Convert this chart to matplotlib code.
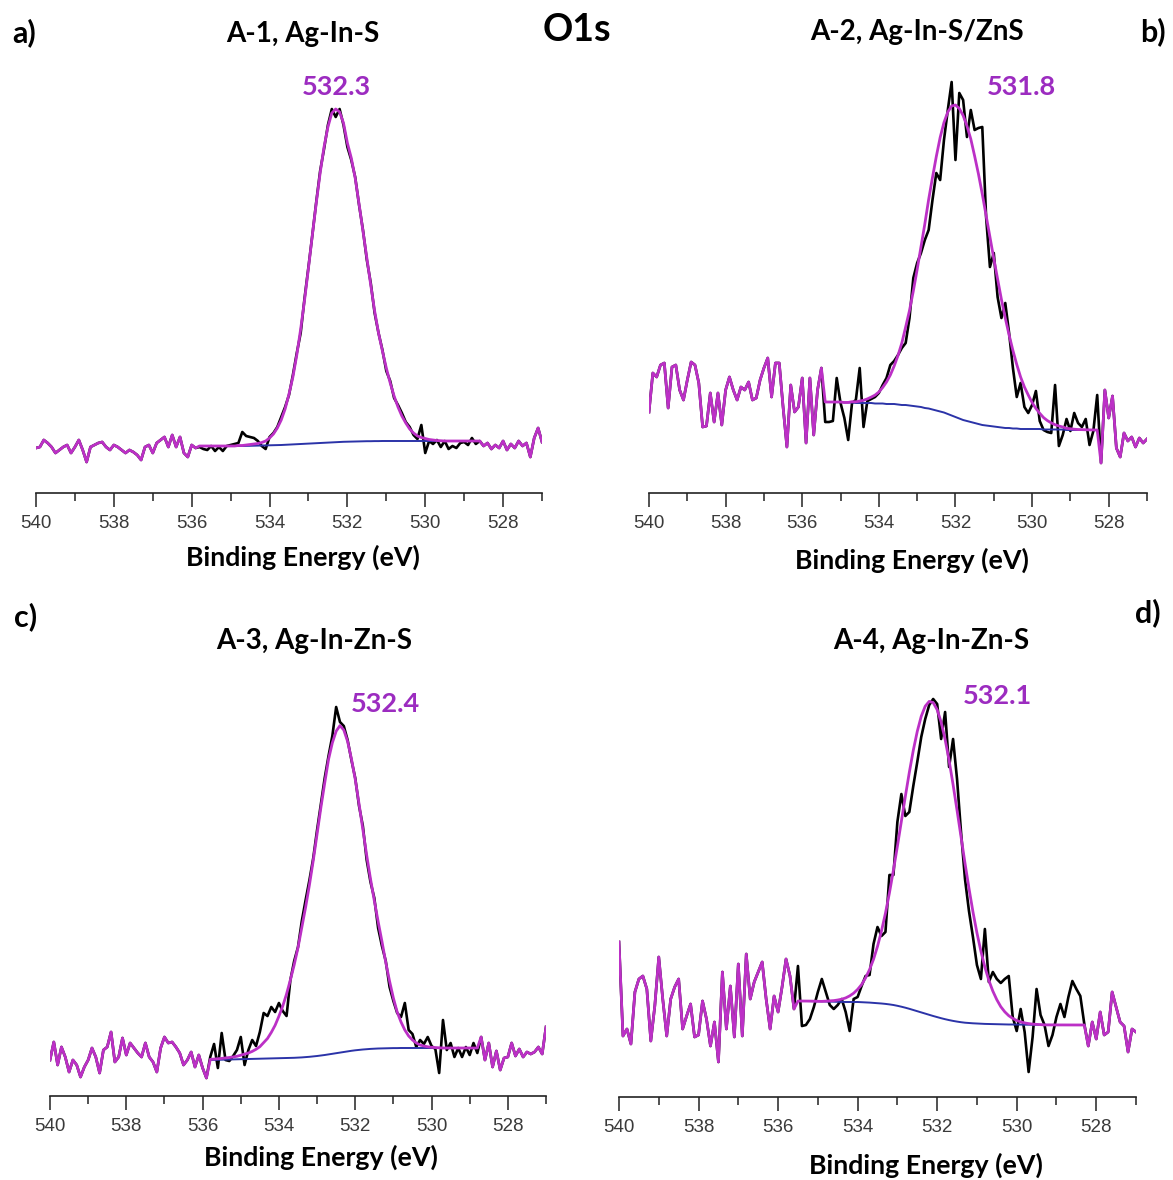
import numpy as np
import matplotlib
matplotlib.use("Agg")
import matplotlib.pyplot as plt
from matplotlib.ticker import MultipleLocator

plt.rcParams['font.family'] = ['Lato', 'DejaVu Sans']

# ---------------- data ----------------
energy = np.round(np.linspace(540.0, 527.0, 131), 1)   # binding energy grid, eV

raw_a = [45, 46, 53, 50, 46, 40, 43, 46, 48, 40,
         46, 53, 43, 31, 46, 48, 50, 51, 46, 43,
         48, 46, 43, 40, 43, 41, 38, 33, 46, 48,
         40, 50, 53, 56, 46, 58, 46, 56, 40, 36,
         48, 45, 46, 44, 43, 47, 42, 46, 42, 47,
         48, 49, 50, 61, 57, 56, 55, 52, 47, 44,
         56, 60, 66, 76, 86, 98, 118, 140, 160, 195,
         226, 258, 291, 322, 344, 368, 384, 376, 384, 368,
         346, 333, 316, 288, 263, 233, 210, 180, 160, 143,
         122, 112, 95, 88, 80, 71, 66, 58, 54, 68,
         40, 52, 49, 53, 46, 52, 44, 47, 45, 50,
         51, 48, 55, 49, 52, 47, 50, 44, 48, 45,
         52, 43, 49, 45, 52, 47, 50, 36, 55, 65,
         51]
fit_range_a = (535.8, 528.6)
fit_a = [47, 47, 47, 47, 47, 47, 47, 47, 47, 47,
         47.5, 47.5, 48, 48.5, 49, 49.5, 50.5, 52, 55, 59,
         65, 73, 84, 99, 116, 138, 164, 193, 225, 258,
         290, 320, 346, 366, 380, 384, 381, 370, 350, 335,
         315, 289, 262, 235, 208, 182, 160, 142, 125, 110,
         97, 86, 77, 70, 64, 60, 57, 55.5, 54.5, 53.5,
         53, 52.5, 52.2, 52, 52, 52, 52, 52, 52, 52,
         52, 52, 52]
bg_a = [47, 47, 47, 47, 47, 47, 47, 47, 47, 47,
        47, 47, 47.1, 47.2, 47.3, 47.4, 47.5, 47.6, 47.7, 47.8,
        47.9, 48, 48.2, 48.4, 48.6, 48.8, 49, 49.2, 49.4, 49.6,
        49.8, 50, 50.2, 50.4, 50.6, 50.8, 51, 51.2, 51.3, 51.4,
        51.5, 51.6, 51.7, 51.8, 51.8, 51.9, 51.9, 52, 52, 52,
        52, 52, 52, 52, 52, 52, 52, 52, 52, 52,
        52, 52, 52, 52, 52, 52, 52, 52, 52, 52,
        52, 52, 52]

raw_b = [81, 120, 116, 128, 130, 85, 126, 128, 103, 93,
         113, 131, 128, 110, 66, 67, 100, 71, 100, 68,
         103, 116, 103, 93, 106, 103, 111, 93, 95, 113,
         125, 135, 96, 130, 130, 86, 46, 108, 81, 86,
         115, 50, 115, 58, 103, 125, 71, 71, 72, 115,
         90, 75, 53, 90, 93, 125, 66, 92, 94, 96,
         100, 108, 115, 128, 132, 138, 145, 150, 175, 215,
         230, 240, 253, 263, 293, 320, 313, 353, 383, 411,
         333, 400, 393, 356, 383, 363, 365, 366, 276, 226,
         240, 196, 175, 190, 160, 125, 96, 110, 86, 80,
         88, 102, 72, 63, 61, 60, 108, 47, 58, 74,
         62, 80, 70, 66, 74, 48, 62, 98, 30, 103,
         75, 97, 45, 36, 60, 52, 56, 46, 55, 50,
         54]
fit_range_b = (535.4, 528.3)
fit_b = [91, 91, 91, 91, 91, 90.5, 90.6, 91.3, 91.2, 91.9,
         92.7, 94.1, 95.9, 97.9, 101, 105.5, 111, 118, 127, 137.5,
         150, 166, 182.5, 202, 223.5, 246, 269, 293.5, 315.5, 336.5,
         355.5, 370.5, 381, 387, 388, 384.5, 377.5, 367, 354, 337,
         319, 299, 277.5, 256, 234.5, 214, 193.5, 175, 158, 142.5,
         128.5, 116, 106, 98, 90.5, 84.5, 79.7, 75.4, 72.4, 70.1,
         68.3, 67, 66, 64.7, 64.2, 63.8, 63.5, 63.35, 63.2, 63.1,
         63.1, 63]
bg_b = [91, 91, 91, 91, 91, 90.5, 90.5, 90.5, 90, 90,
        90, 90, 90, 89.5, 89.5, 89.5, 89, 89, 89, 88.5,
        88, 88, 87.5, 87, 86.5, 86, 85, 84.5, 83.5, 82.5,
        81.5, 80.5, 79, 77.5, 76, 74.5, 73, 72, 71, 70,
        69, 68, 67.5, 67, 66.5, 66, 65.5, 65, 65, 64.5,
        64.5, 64, 64, 64, 64, 64, 64, 63.5, 63.5, 63.5,
        63.5, 63.5, 63.5, 63, 63, 63, 63, 63, 63, 63,
        63, 63]

raw_c = [36, 54, 31, 49, 39, 24, 36, 31, 19, 29,
         36, 48, 39, 23, 46, 49, 64, 34, 39, 58,
         41, 53, 48, 43, 39, 53, 39, 34, 24, 48,
         59, 53, 54, 49, 43, 31, 36, 44, 29, 41,
         28, 18, 39, 52, 28, 63, 36, 35, 40, 46,
         59, 31, 46, 56, 50, 64, 83, 80, 89, 84,
         93, 85, 80, 116, 135, 149, 175, 196, 216, 238,
         266, 292, 318, 340, 360, 389, 374, 370, 356, 336,
         318, 290, 270, 236, 214, 198, 168, 150, 135, 109,
         95, 83, 79, 93, 66, 62, 49, 56, 52, 59,
         50, 47, 23, 76, 46, 53, 39, 48, 39, 49,
         41, 53, 43, 59, 36, 53, 29, 45, 26, 38,
         39, 53, 40, 47, 39, 44, 42, 44, 49, 42,
         69]
fit_range_c = (535.8, 528.8)
fit_c = [36.6, 36.9, 37.2, 37.6, 38, 38.5, 39.1, 39.7, 40.8, 41.9,
         43, 44.6, 46.7, 49.3, 53.4, 57.5, 63.6, 70.7, 79.8, 89.9,
         102, 116.1, 131.2, 148.4, 168.6, 188.9, 211.2, 235.6, 262, 288.5,
         313, 336.6, 353.2, 364.8, 370.4, 366, 354.6, 337.2, 316.7, 292.1,
         266.5, 240.8, 217.1, 195.3, 174.5, 154.6, 133.7, 114.8, 97.9, 83.9,
         74, 66, 60, 56, 53, 51, 50, 49.2, 48.7, 48.4,
         48.2, 48, 48, 48, 48, 48, 48, 48, 48, 48,
         48]
bg_c = [36, 36.1, 36.2, 36.3, 36.4, 36.5, 36.6, 36.7, 36.8, 36.9,
        37, 37.1, 37.2, 37.3, 37.4, 37.5, 37.6, 37.7, 37.8, 37.9,
        38, 38.1, 38.2, 38.4, 38.6, 38.9, 39.2, 39.6, 40, 40.5,
        41, 41.6, 42.2, 42.8, 43.4, 44, 44.6, 45.2, 45.7, 46.1,
        46.5, 46.8, 47.1, 47.3, 47.5, 47.6, 47.7, 47.8, 47.9, 47.9,
        48, 48, 48, 48, 48, 48, 48, 48, 48, 48,
        48, 48, 48, 48, 48, 48, 48, 48, 48, 48,
        48]

raw_d = [155, 61, 68, 53, 105, 118, 121, 108, 56, 91,
         140, 98, 61, 98, 110, 118, 68, 81, 93, 60,
         62, 96, 78, 51, 75, 35, 125, 68, 111, 60,
         133, 61, 143, 98, 115, 125, 135, 98, 68, 101,
         85, 110, 138, 121, 88, 131, 71, 72, 78, 90,
         105, 118, 105, 92, 88, 92, 98, 85, 66, 98,
         100, 111, 121, 122, 153, 170, 161, 165, 222, 222,
         275, 303, 281, 285, 311, 335, 360, 378, 392, 398,
         393, 358, 385, 330, 358, 318, 265, 218, 186, 160,
         132, 118, 168, 115, 125, 118, 114, 118, 121, 80,
         66, 88, 65, 25, 60, 108, 82, 72, 51, 62,
         80, 93, 80, 100, 116, 108, 101, 73, 51, 75,
         58, 85, 62, 65, 105, 90, 75, 71, 45, 68,
         65]
fit_range_d = (535.5, 528.3)
fit_d = [96, 96, 96, 95.9, 95.8, 95.7, 95.6, 95.9, 96.1, 96.4,
         97, 97.8, 99.1, 101.1, 103.8, 107.6, 112.4, 119.1, 127.4, 137.7,
         150.6, 166, 183.8, 204.1, 226.7, 250.7, 275.6, 300.6, 324.6, 346.7,
         365.6, 380.7, 390.8, 395.6, 394.4, 387.3, 374.9, 357.6, 336.6, 312.5,
         286.7, 260.1, 233.8, 208.7, 185.2, 164.2, 145.8, 129.9, 116.6, 105.9,
         97.3, 90.3, 85.2, 81.3, 78.6, 76.5, 75.1, 74.1, 73.4, 72.9,
         72.6, 72.2, 72.1, 72.1, 72.1, 72, 72, 72, 72, 72,
         72, 72, 72]
bg_d = [96, 96, 96, 95.9, 95.8, 95.7, 95.6, 95.5, 95.4, 95.3,
        95.2, 95.1, 95, 95, 95, 95, 94.8, 94.6, 94.4, 94.1,
        93.8, 93.5, 93.1, 92.6, 92, 91.2, 90.3, 89.3, 88.2, 87,
        85.8, 84.6, 83.4, 82.2, 81, 79.9, 78.8, 77.8, 76.9, 76.1,
        75.4, 74.8, 74.3, 74, 73.7, 73.5, 73.3, 73.1, 73, 72.9,
        72.8, 72.7, 72.6, 72.5, 72.5, 72.4, 72.4, 72.3, 72.3, 72.2,
        72.2, 72.2, 72.1, 72.1, 72.1, 72, 72, 72, 72, 72,
        72, 72, 72]

titles = ["A-1, Ag-In-S", "A-2, Ag-In-S/ZnS", "A-3, Ag-In-Zn-S", "A-4, Ag-In-Zn-S"]
letters = ["a)", "b)", "c)", "d)"]
peak_labels = ["532.3", "531.8", "532.4", "532.1"]
xlabel = "Binding Energy (eV)"
main_title = "O1s"
tick_values = [540, 538, 536, 534, 532, 530, 528]

# ---------------- layout (pixels) ----------------
W, H = 1173, 1180
fig = plt.figure(figsize=(W / 100, H / 100), dpi=100)
fig.patch.set_facecolor('white')

MAG = '#BC30C6'
LABEL_PURPLE = '#9C2CC0'
BLUE = '#2B33A8'

panels = [
    # raw, fit, bg, fit range, (left, right, axis_y, top) px
    (raw_a, fit_a, bg_a, fit_range_a, (36, 542, 493, 60)),
    (raw_b, fit_b, bg_b, fit_range_b, (649, 1147, 493, 60)),
    (raw_c, fit_c, bg_c, fit_range_c, (50, 546, 1096, 660)),
    (raw_d, fit_d, bg_d, fit_range_d, (619, 1136, 1097, 660)),
]
title_pos = [(303, 34), (917, 32), (314, 641), (931, 641)]
letter_pos = [(24, 33), (1153, 32), (26, 617), (1148, 613)]
peak_pos = [(336, 87), (1021, 87), (385, 704), (997, 696)]
xlabel_pos = [(303, 557), (912, 560), (321, 1157), (926, 1165)]


def ftext(x, y, s, **kw):
    fig.text(x / W, 1 - y / H, s, ha='center', va='center', **kw)


for i, (raw, fit, bg, (e_hi, e_lo), (l, r, ay, top)) in enumerate(panels):
    raw = np.asarray(raw, float)
    fit = np.asarray(fit, float)
    bg = np.asarray(bg, float)
    ax = fig.add_axes([l / W, 1 - ay / H, (r - l) / W, (ay - top) / H])
    ax.set_xlim(540, 527)
    ax.set_ylim(0, ay - top)

    in_fit = (energy <= e_hi + 1e-6) & (energy >= e_lo - 1e-6)
    fit_e = energy[in_fit]
    before = energy > e_hi + 1e-6
    after = energy < e_lo - 1e-6
    env_e = np.concatenate([energy[before], fit_e, energy[after]])
    env_y = np.concatenate([raw[before], fit, raw[after]])

    ax.plot(energy, raw, color='black', lw=1.9, zorder=2, solid_joinstyle='round')
    ax.plot(fit_e, bg, color=BLUE, lw=1.4, zorder=3)
    ax.plot(env_e, env_y, color=MAG, lw=2.0, zorder=4, solid_joinstyle='round')

    for s in ('left', 'right', 'top'):
        ax.spines[s].set_visible(False)
    ax.spines['bottom'].set_color('#222222')
    ax.spines['bottom'].set_linewidth(1.2)
    ax.set_yticks([])
    ax.set_xticks(tick_values)
    ax.xaxis.set_minor_locator(MultipleLocator(1))
    ax.tick_params(axis='x', which='major', direction='out', length=10, width=1.1,
                   color='#222222', pad=6, labelsize=13.5, labelcolor='#3a3a3a')
    ax.tick_params(axis='x', which='minor', direction='out', length=5.5, width=1.1,
                   color='#222222')
    for t in ax.get_xticklabels():
        t.set_fontfamily(['Liberation Sans', 'DejaVu Sans'])
    ax.patch.set_alpha(0)

    ftext(*title_pos[i], titles[i], fontsize=20, fontweight='bold', color='black')
    ftext(*letter_pos[i], letters[i], fontsize=22, fontweight='bold', color='black')
    ftext(*peak_pos[i], peak_labels[i], fontsize=19.5, fontweight='bold', color=LABEL_PURPLE)
    ftext(*xlabel_pos[i], xlabel, fontsize=19.3, fontweight='bold', color='black')

ftext(577, 30, main_title, fontsize=27, fontweight='bold', color='black')

fig.savefig('out.png', dpi=100, facecolor='white')
